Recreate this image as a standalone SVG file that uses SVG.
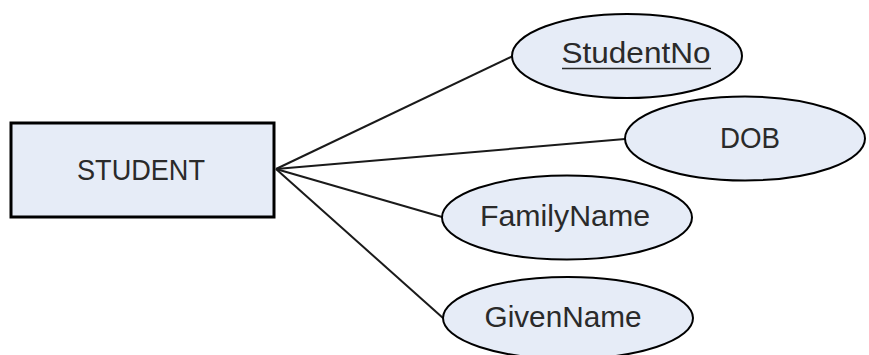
<svg xmlns="http://www.w3.org/2000/svg" width="869" height="355" viewBox="0 0 869 355">
<style>
.ent{fill:#e6ecf7;stroke:#000;stroke-width:3}
.att{fill:#e6ecf7;stroke:#000;stroke-width:2}
.lbl{font-family:"Liberation Sans",Arial,sans-serif;font-size:30px;fill:#2a2a2a;text-anchor:middle}
.con{stroke:#1a1a1a;stroke-width:2;fill:none}
</style>
<rect width="869" height="355" fill="#fff"/>
<g id="connectors">
<line class="con" x1="276" y1="169" x2="513" y2="56"/>
<line class="con" x1="276" y1="169" x2="625" y2="139"/>
<line class="con" x1="276" y1="169" x2="442" y2="217"/>
<line class="con" x1="276" y1="169" x2="443" y2="318"/>
</g>
<g id="student">
<rect class="ent" x="11" y="123" width="263" height="94"/>
<text class="lbl" x="141" y="180" textLength="128" lengthAdjust="spacingAndGlyphs">STUDENT</text>
</g>
<g id="studentno">
<ellipse class="att" cx="627" cy="56" rx="115" ry="42"/>
<text class="lbl" x="636" y="63" textLength="149" lengthAdjust="spacingAndGlyphs">StudentNo</text>
<line x1="562" y1="68.5" x2="711" y2="68.5" stroke="#2a2a2a" stroke-width="1.5"/>
</g>
<g id="dob">
<ellipse class="att" cx="745" cy="138.5" rx="120" ry="42"/>
<text class="lbl" x="750" y="148" textLength="60" lengthAdjust="spacingAndGlyphs">DOB</text>
</g>
<g id="familyname">
<ellipse class="att" cx="567" cy="217.5" rx="125" ry="42"/>
<text class="lbl" x="565" y="226" textLength="170" lengthAdjust="spacingAndGlyphs">FamilyName</text>
</g>
<g id="givenname">
<ellipse class="att" cx="568" cy="318" rx="125" ry="41"/>
<text class="lbl" x="563" y="327" textLength="157" lengthAdjust="spacingAndGlyphs">GivenName</text>
</g>
</svg>
